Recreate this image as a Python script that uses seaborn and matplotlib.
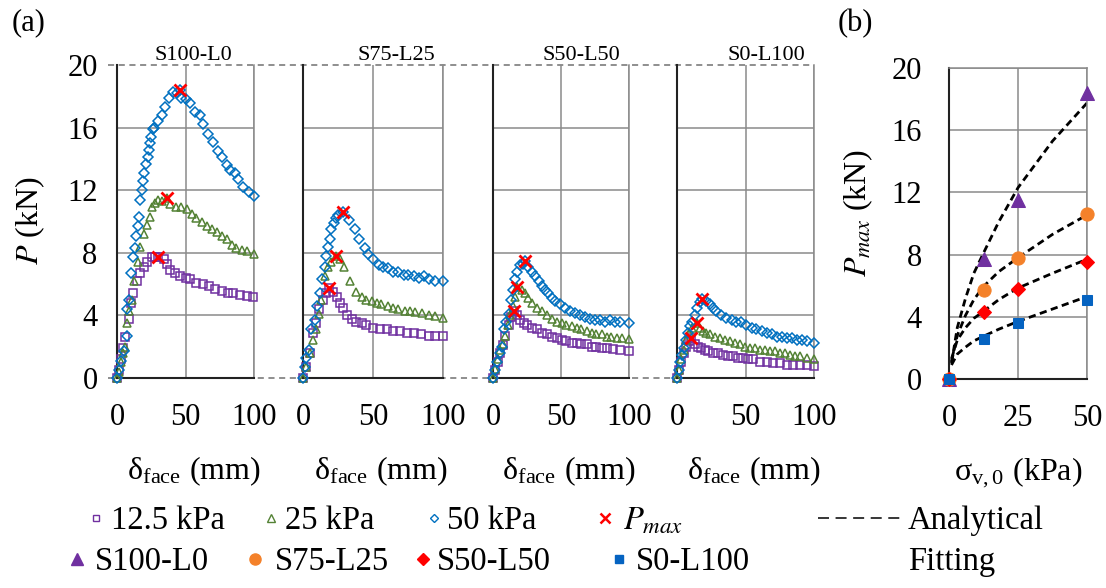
import numpy as np
import pandas as pd
import matplotlib
matplotlib.use("Agg")
import matplotlib.pyplot as plt
import matplotlib.transforms as mtransforms
from matplotlib.lines import Line2D
import seaborn as sns

sns.set_theme(style="white")
plt.rcParams["font.family"] = ["Liberation Serif", "DejaVu Serif"]
plt.rcParams["mathtext.fontset"] = "stix"

# ---------------- data: panel (a) ----------------
panel_titles = ["S100-L0", "S75-L25", "S50-L50", "S0-L100"]
pressure_labels = ["12.5 kPa", "25 kPa", "50 kPa"]

# S100-L0
d_s100_12 = [0, 1.5, 3, 4.5, 6, 8.5, 10, 12, 14.6, 17, 19.4, 21.8, 25.5, 28, 30, 34, 36.4, 39, 42.5, 46, 50, 53.4, 58, 63, 67, 71.6, 76.5, 81, 85, 90, 94.7, 99.5]
p_s100_12 = [0, 0.5, 1.2, 1.9, 2.6, 3.8, 4.8, 5.4, 6.2, 6.7, 7.1, 7.4, 7.7, 7.7, 7.7, 7.6, 7.3, 6.9, 6.7, 6.5, 6.4, 6.3, 6.1, 6.0, 5.9, 5.7, 5.55, 5.45, 5.4, 5.3, 5.25, 5.2]
d_s100_25 = [0, 1.5, 3, 4.5, 6, 7, 9, 11, 12.5, 15, 16.5, 19.4, 21.8, 23.8, 25.5, 28, 30, 33, 36.4, 39, 43, 47, 51, 54.6, 58, 62, 65.5, 69, 73, 76.5, 80, 83.7, 87, 91, 94.7, 100]
p_s100_25 = [0, 0.4, 1.0, 1.6, 2.0, 3.5, 4.3, 5.0, 6.2, 7.4, 8.4, 9.2, 9.8, 10.3, 10.9, 11.2, 11.4, 11.3, 11.5, 11.1, 10.9, 10.9, 10.8, 10.5, 10.2, 10.0, 9.7, 9.5, 9.3, 9.1, 8.9, 8.5, 8.3, 8.2, 8.1, 7.9]
d_s100_50 = [0, 1.2, 3, 5, 7, 7.3, 8.5, 10, 12, 13.3, 14, 15, 16, 17, 18.2, 19, 20, 21.4, 22.3, 23, 23.8, 24.8, 26, 27, 30, 32.8, 34.7, 37.6, 41, 43.5, 46, 47, 50.5, 53, 57, 60.7, 63, 66.7, 70.4, 74, 76.5, 80, 82.5, 86, 88.6, 92, 96, 100]
p_s100_50 = [0, 0.5, 1.1, 1.7, 2.7, 4.4, 5.0, 6.7, 7.7, 8.3, 9.1, 9.7, 10.3, 11.4, 12.0, 12.6, 13.1, 13.7, 14.1, 14.6, 15.0, 15.4, 15.9, 16.0, 16.4, 16.8, 17.3, 17.9, 18.3, 18.2, 18.4, 17.9, 17.8, 17.6, 17.0, 16.8, 16.2, 15.6, 15.1, 14.5, 14.1, 13.6, 13.3, 13.1, 12.7, 12.2, 11.9, 11.6]

# S75-L25
d_s75_12 = [0, 2.4, 4.8, 7.2, 9, 11.5, 14, 16.7, 18.7, 21.5, 24.4, 26.3, 28.7, 31.6, 34.7, 38, 42, 45, 50, 55, 60, 64.6, 69.4, 74, 79, 84, 90, 94.5, 100]
p_s75_12 = [0, 0.7, 1.6, 2.9, 3.5, 4.4, 5.0, 5.4, 5.75, 5.5, 5.2, 4.8, 4.5, 4.0, 3.8, 3.6, 3.5, 3.4, 3.2, 3.1, 3.1, 3.0, 3.0, 2.9, 2.9, 2.8, 2.7, 2.7, 2.7]
d_s75_25 = [0, 2.4, 4.8, 7.2, 9, 11.5, 13, 15.5, 18, 20, 23.4, 26.3, 29, 33.5, 38, 42, 45, 49, 52.6, 56, 61, 64.6, 68, 73, 76.5, 80, 85, 90, 94.5, 100]
p_s75_25 = [0, 0.7, 1.6, 2.4, 3.1, 4.1, 5.0, 6.5, 7.1, 7.4, 7.8, 7.6, 7.1, 6.2, 5.5, 5.2, 5.0, 4.9, 4.8, 4.7, 4.6, 4.5, 4.4, 4.3, 4.3, 4.2, 4.15, 4.05, 3.95, 3.85]
d_s75_50 = [0, 1.2, 2.4, 4.3, 6, 8.4, 10, 12, 13.9, 15.5, 16.7, 18, 19, 20.3, 22, 23.4, 25, 28.7, 33, 37, 40, 44, 46.7, 50, 54, 57, 61, 64.6, 68, 72, 75, 79, 83, 86.6, 90, 94.5, 100]
p_s75_50 = [0, 0.7, 1.3, 1.8, 3.1, 3.7, 4.6, 5.4, 6.3, 7.1, 7.8, 8.4, 8.9, 9.5, 9.9, 10.2, 10.4, 10.6, 10.1, 9.5, 8.9, 8.3, 7.9, 7.6, 7.2, 7.1, 7.0, 6.8, 6.8, 6.6, 6.6, 6.5, 6.4, 6.5, 6.3, 6.2, 6.2]

# S50-L50
d_s50_12 = [0, 1.7, 3.4, 5.4, 7.3, 9, 11.5, 13.2, 15.2, 17.6, 20, 22.5, 25, 28.6, 32, 36, 39.6, 43.3, 47, 50.6, 54, 58, 61.6, 65, 69, 72.6, 76, 80, 83.6, 88.5, 93.4, 100]
p_s50_12 = [0, 0.5, 1.0, 1.6, 2.1, 2.7, 3.4, 3.9, 4.25, 4.05, 3.7, 3.5, 3.4, 3.2, 3.1, 2.9, 2.8, 2.65, 2.55, 2.45, 2.35, 2.25, 2.25, 2.15, 2.15, 2.0, 2.0, 1.9, 1.9, 1.85, 1.8, 1.7]
d_s50_25 = [0, 1.7, 3.4, 5.4, 7.3, 9, 11, 12.7, 14.7, 16.4, 18, 21.3, 23.7, 26, 28.6, 32, 36, 39.6, 43.3, 47, 50.6, 54, 58, 61.6, 65, 69, 72.6, 76, 80, 83.6, 87, 91, 94.6, 100]
p_s50_25 = [0, 0.6, 1.2, 1.8, 2.2, 2.7, 3.4, 4.0, 4.6, 5.2, 5.8, 5.6, 5.4, 5.1, 4.8, 4.5, 4.25, 4.05, 3.8, 3.6, 3.5, 3.4, 3.3, 3.2, 3.1, 3.0, 2.9, 2.8, 2.8, 2.65, 2.6, 2.55, 2.55, 2.5]
d_s50_50 = [0, 1.7, 3, 5, 6.6, 8.3, 9.8, 11.5, 13.2, 14.7, 16.4, 18, 20, 22, 23.2, 26, 28.6, 31, 33.5, 36, 38.4, 40.8, 43.3, 45.7, 49.4, 53, 56.7, 60.4, 64, 67.7, 71.4, 75, 78.7, 82, 86, 89.7, 93.4, 100]
p_s50_50 = [0, 0.5, 1.0, 1.6, 2.0, 3.1, 3.6, 4.1, 5.0, 5.6, 6.3, 6.8, 7.2, 7.3, 7.45, 7.1, 6.8, 6.5, 6.2, 5.85, 5.6, 5.4, 5.1, 4.9, 4.7, 4.5, 4.25, 4.15, 4.05, 3.9, 3.8, 3.7, 3.7, 3.6, 3.7, 3.6, 3.6, 3.5]

# S0-L100
d_s0_12 = [0, 1.5, 3.2, 4.9, 6.8, 8.8, 10.5, 13, 15.4, 17.8, 20.2, 22.7, 26.3, 30, 33.7, 37.3, 41, 44.6, 48.3, 52, 55.6, 60.5, 65.4, 70, 75, 80, 85, 89.8, 94.6, 100]
p_s0_12 = [0, 0.5, 1.05, 1.6, 2.0, 2.35, 2.55, 2.2, 2.0, 1.9, 1.8, 1.7, 1.6, 1.6, 1.5, 1.4, 1.4, 1.3, 1.3, 1.2, 1.2, 1.05, 1.05, 0.95, 0.95, 0.85, 0.85, 0.8, 0.8, 0.75]
d_s0_25 = [0, 1.5, 3.2, 4.9, 6.8, 8.8, 11.2, 14.6, 16.6, 19, 21.5, 24, 27.5, 31.2, 35, 38.5, 42.2, 45.8, 49.5, 53, 56.8, 60.5, 64, 67.8, 71.5, 75, 78.8, 82.4, 86, 89.8, 94.6, 100]
p_s0_25 = [0, 0.5, 1.2, 1.8, 2.4, 2.9, 3.2, 3.5, 3.2, 3.0, 2.9, 2.8, 2.65, 2.55, 2.45, 2.35, 2.25, 2.15, 2.0, 1.9, 1.9, 1.8, 1.8, 1.7, 1.7, 1.6, 1.6, 1.5, 1.4, 1.4, 1.3, 1.2]
d_s0_50 = [0, 1.5, 2.4, 3.9, 4.9, 6.3, 8, 9.6, 11.2, 13, 14.6, 16.6, 18.5, 21, 24, 26.3, 28.8, 32.4, 36, 39.8, 43.4, 47, 50.7, 54.4, 58, 61.7, 65.4, 69, 72.7, 76.3, 80, 83.7, 87.3, 91, 94.6, 100]
p_s0_50 = [0, 0.5, 1.0, 1.5, 1.9, 2.4, 2.9, 3.3, 3.6, 4.0, 4.5, 4.85, 5.05, 4.9, 4.7, 4.5, 4.25, 4.05, 3.85, 3.7, 3.6, 3.6, 3.4, 3.2, 3.1, 3.0, 2.9, 2.8, 2.65, 2.65, 2.55, 2.55, 2.45, 2.45, 2.35, 2.25]

# Pmax points (delta, P) for each panel: 12.5, 25, 50 kPa
pmax_d = [[30, 36.4, 46], [18.7, 23.4, 28.7], [15.2, 18, 23.2], [10.5, 14.6, 18.5]]
pmax_p = [[7.7, 11.5, 18.4], [5.75, 7.8, 10.6], [4.25, 5.8, 7.45], [2.55, 3.5, 5.05]]

# ---------------- data: panel (b) ----------------
sigma = [0, 12.5, 25, 50]
pmax_s100 = [0, 7.7, 11.5, 18.4]
pmax_s75 = [0, 5.7, 7.8, 10.6]
pmax_s50 = [0, 4.3, 5.8, 7.5]
pmax_s0 = [0, 2.6, 3.6, 5.1]
sigma_fit = [0.9, 3, 6, 9, 12.5, 18, 25, 37.5, 50]
fit_s100 = [1.0, 3.3, 5.2, 6.8, 8.1, 10.1, 12.3, 15.3, 17.75]
fit_s75 = [1.1, 2.8, 4.1, 5.1, 5.95, 6.9, 7.8, 9.3, 10.55]
fit_s50 = [1.3, 2.5, 3.3, 3.9, 4.35, 5.1, 5.85, 6.8, 7.7]
fit_s0 = [0.9, 1.6, 2.05, 2.45, 2.75, 3.2, 3.7, 4.5, 5.3]

# ---------------- styles ----------------
c_purple, c_green, c_blue, c_red = "#7030A0", "#548235", "#0070C0", "#FF0000"
c_orange, c_sq = "#F4812A", "#0563C1"
grid_c = "#8a8a8a"
W, H = 1106, 588
FS = 22
LBL = 23

series_a = [
    [(d_s100_12, p_s100_12), (d_s100_25, p_s100_25), (d_s100_50, p_s100_50)],
    [(d_s75_12, p_s75_12), (d_s75_25, p_s75_25), (d_s75_50, p_s75_50)],
    [(d_s50_12, p_s50_12), (d_s50_25, p_s50_25), (d_s50_50, p_s50_50)],
    [(d_s0_12, p_s0_12), (d_s0_25, p_s0_25), (d_s0_50, p_s0_50)],
]
mk_a = [("s", c_purple, 5.2), ("^", c_green, 6.0), ("D", c_blue, 4.8)]

fig = plt.figure(figsize=(W / 100, H / 100), dpi=100)


def ax_at(x0, x1, ytop, ybot):
    return fig.add_axes([x0 / W, 1 - ybot / H, (x1 - x0) / W, (ybot - ytop) / H])


pos_a = [(117, 254), (303, 443), (493, 629), (677, 814)]
title_x = [0.555, 0.67, 0.647, 0.65]
axes_a = []
for i, (x0, x1) in enumerate(pos_a):
    ax = ax_at(x0, x1, 65, 378)
    ax.set_facecolor("none")
    axes_a.append(ax)
    for (dd, pp), (m, c, ms) in zip(series_a[i], mk_a):
        df = pd.DataFrame({"d": dd, "p": pp})
        sns.lineplot(data=df, x="d", y="p", ax=ax, sort=False, estimator=None,
                     linestyle="", marker=m, markersize=ms, mfc="none", mec=c,
                     mew=1.1, color=c, zorder=3, clip_on=False)
    dfp = pd.DataFrame({"d": pmax_d[i], "p": pmax_p[i]})
    sns.lineplot(data=dfp, x="d", y="p", ax=ax, sort=False, estimator=None,
                 linestyle="", marker="x", markersize=9, mew=2.0, mec=c_red,
                 color=c_red, zorder=4, clip_on=False)
    ax.set_xlim(0, 100)
    ax.set_ylim(0, 20)
    ax.set_xticks([0, 50, 100])
    ax.set_xticks([25, 75], minor=True)
    ax.set_yticks(range(0, 21, 4))
    ax.set_yticks(range(2, 20, 4), minor=True)
    ax.grid(True, which="major", color=grid_c, lw=1.1)
    ax.set_axisbelow(True)
    for t in ax.yaxis.get_major_ticks()[-1:]:
        t.gridline.set_visible(False)
    ax.spines["top"].set_visible(False)
    ax.spines["right"].set_color(grid_c)
    ax.spines["right"].set_linewidth(1.1)
    for s in ("left", "bottom"):
        ax.spines[s].set_color("#222222")
        ax.spines[s].set_linewidth(1.5)
    ax.tick_params(which="both", direction="inout", color="#222222", width=1.3,
                   labelsize=FS, labelcolor="black")
    ax.tick_params(axis="y", which="major", length=14, pad=7)
    ax.tick_params(axis="y", which="minor", length=11)
    ax.tick_params(axis="x", which="both", length=12, pad=12)
    if i > 0:
        ax.tick_params(axis="y", labelleft=False)
    ax.set_xlabel(r"δ$_{\mathregular{face}}$ (mm)", fontsize=LBL, color="black")
    ax.xaxis.set_label_coords(0.5 + 8 / 137, -0.245)
    ax.set_ylabel("")
    ax.text(title_x[i], 1 + 5 / 313, panel_titles[i], transform=ax.transAxes,
            ha="center", va="baseline", fontsize=16, color="black")

# dashed reference lines at P = 0 and P = 20 across panel (a)
blend = mtransforms.blended_transform_factory(fig.transFigure, axes_a[0].transData)
for yv in (0, 20):
    fig.add_artist(Line2D([108 / W, 814 / W], [yv, yv], transform=blend,
                          color="#707070", lw=1.1, ls=(0, (4, 3)), zorder=-1))

fig.text(30 / W, 1 - 221 / H, r"$P$ (kN)", rotation=90, ha="center", va="center",
         fontsize=23, color="black")
fig.text(12 / W, 1 - 30 / H, "(a)", fontsize=22, va="baseline", color="black")

# ---------------- panel (b) ----------------
axb = ax_at(949, 1087, 68, 379)
for yy, fit in [(pmax_s100, fit_s100), (pmax_s75, fit_s75), (pmax_s50, fit_s50), (pmax_s0, fit_s0)]:
    dff = pd.DataFrame({"s": sigma_fit, "p": fit})
    sns.lineplot(data=dff, x="s", y="p", ax=axb, sort=False, estimator=None,
                 color="black", lw=2.0, linestyle=(0, (2.6, 1.6)), zorder=2)
mk_b = [(pmax_s100, "^", c_purple, 10), (pmax_s75, "o", c_orange, 9.5),
        (pmax_s50, "D", c_red, 7), (pmax_s0, "s", c_sq, 7)]
for yy, m, c, ms in mk_b:
    dfb = pd.DataFrame({"s": sigma, "p": yy})
    sns.lineplot(data=dfb, x="s", y="p", ax=axb, sort=False, estimator=None,
                 linestyle="", marker=m, markersize=ms, mfc=c, mec=c, color=c,
                 zorder=3, clip_on=False)
axb.set_xlim(0, 50)
axb.set_ylim(0, 20)
axb.set_xticks([0, 25, 50])
axb.set_xticks([12.5, 37.5], minor=True)
axb.set_yticks(range(0, 21, 4))
axb.set_yticks(range(2, 20, 4), minor=True)
axb.grid(True, which="major", color=grid_c, lw=1.1)
axb.set_axisbelow(True)
for s in ("top", "right"):
    axb.spines[s].set_color(grid_c)
    axb.spines[s].set_linewidth(1.1)
for s in ("left", "bottom"):
    axb.spines[s].set_color("#222222")
    axb.spines[s].set_linewidth(1.5)
axb.tick_params(which="both", direction="inout", color="#222222", width=1.3,
                labelsize=FS, labelcolor="black")
axb.tick_params(axis="y", which="major", length=15, pad=12)
axb.tick_params(axis="y", which="minor", length=11)
axb.tick_params(axis="x", which="both", length=12, pad=12)
axb.set_xlabel(r"σ$_{\mathregular{v,0}}$ (kPa)", fontsize=LBL, color="black")
axb.xaxis.set_label_coords(0.5, -0.245)
axb.set_ylabel("")
fig.text(858 / W, 1 - 213 / H, r"$P_{max}$ (kN)", rotation=90, ha="center", va="center",
         fontsize=23, color="black")
fig.text(838 / W, 1 - 31 / H, "(b)", fontsize=22, va="baseline", color="black")

# ---------------- legends ----------------
LFS = 23.5
fs_px = LFS * 100 / 72


def entry(handle, label, mx, my, hl=0.5, tp=0.21):
    left = mx - hl * fs_px / 2
    fig.legend(handles=[handle], labels=[label], loc="center left",
               bbox_to_anchor=(left / W, 1 - my / H), frameon=False, fontsize=LFS,
               handlelength=hl, handletextpad=tp, borderpad=0, borderaxespad=0,
               labelcolor="black")


def mh(m, c, ms, filled, mew=1.0):
    return Line2D([], [], ls="", marker=m, ms=ms, mec=c, mfc=(c if filled else "none"),
                  mew=mew, color=c)


row1, row2 = 521, 562
entry(mh("s", c_purple, 4.6, False), pressure_labels[0], 96, row1)
entry(mh("^", c_green, 5.4, False), pressure_labels[1], 271, row1, tp=0.18)
entry(mh("D", c_blue, 4.2, False), pressure_labels[2], 434, row1, tp=0.15)
entry(mh("x", c_red, 7.5, False, mew=1.8), r"$P_{max}$", 605, row1, tp=0.3)
entry(mh("^", c_purple, 8, True), panel_titles[0], 77, row2, tp=0.3)
entry(mh("o", c_orange, 8, True), panel_titles[1], 255, row2, tp=0.36)
entry(mh("D", c_red, 6, True), panel_titles[2], 423, row2, tp=0.18)
entry(mh("s", c_sq, 6, True), panel_titles[3], 619, row2, tp=0.27)
fig.legend(handles=[Line2D([], [], color="black", lw=1.1, ls=(0, (7.2, 4.3)))],
           labels=["Analytical"], loc="center left", bbox_to_anchor=(818 / W, 1 - row1 / H),
           frameon=False, fontsize=LFS, handlelength=2.55, handletextpad=0.21,
           borderpad=0, borderaxespad=0, labelcolor="black")
fig.text(908 / W, 1 - row2 / H, "Fitting", fontsize=LFS, va="center", ha="left", color="black")

fig.savefig("out.png", dpi=100)
